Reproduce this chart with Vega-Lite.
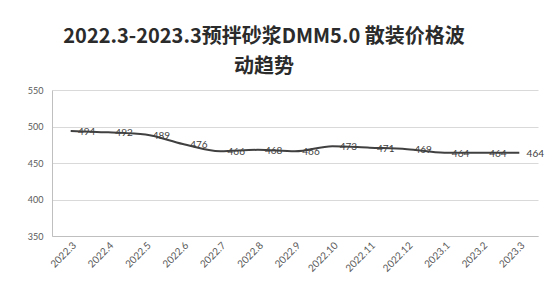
{
  "$schema": "https://vega.github.io/schema/vega-lite/v6.json",
  "width": 486,
  "height": 146,
  "autosize": {"type": "none"},
  "padding": {"left": 52, "top": 90, "right": 11, "bottom": 55},
  "background": "white",
  "title": {
    "text": ["2022.3-2023.3预拌砂浆DMM5.0 散装价格波", "动趋势"],
    "font": "Noto Sans CJK SC",
    "fontSize": 20,
    "fontWeight": "bold",
    "color": "#2b2b2b",
    "lineHeight": 30,
    "anchor": "middle",
    "dx": -31,
    "offset": 9
  },
  "data": {
    "values": [
      {"month": "2022.3", "price": 494},
      {"month": "2022.4", "price": 492},
      {"month": "2022.5", "price": 489},
      {"month": "2022.6", "price": 476},
      {"month": "2022.7", "price": 466},
      {"month": "2022.8", "price": 468},
      {"month": "2022.9", "price": 466},
      {"month": "2022.10", "price": 473},
      {"month": "2022.11", "price": 471},
      {"month": "2022.12", "price": 469},
      {"month": "2023.1", "price": 464},
      {"month": "2023.2", "price": 464},
      {"month": "2023.3", "price": 464}
    ]
  },
  "encoding": {
    "x": {
      "field": "month",
      "type": "ordinal",
      "sort": null,
      "scale": {"type": "point", "padding": 0.5},
      "axis": {
        "title": null,
        "labelAngle": -45,
        "labelFont": "Lato",
        "labelFontSize": 10,
        "labelColor": "#595959",
        "domainColor": "#bfbfbf",
        "ticks": false,
        "labelPadding": 4,
        "grid": false
      }
    },
    "y": {
      "field": "price",
      "type": "quantitative",
      "scale": {"domain": [350, 550], "nice": false, "zero": false},
      "axis": {
        "title": null,
        "values": [350, 400, 450, 500, 550],
        "labelFont": "Lato",
        "labelFontSize": 9,
        "labelColor": "#595959",
        "labelPadding": 9,
        "ticks": false,
        "domainColor": "#bfbfbf",
        "gridColor": "#d9d9d9",
        "grid": true
      }
    }
  },
  "layer": [
    {
      "mark": {"type": "line", "interpolate": "monotone", "color": "#404040", "strokeWidth": 2}
    },
    {
      "mark": {"type": "text", "dx": 16, "dy": 1, "font": "Lato", "fontSize": 10, "color": "#404040"},
      "encoding": {"text": {"field": "price", "type": "quantitative"}}
    }
  ],
  "config": {"view": {"stroke": null}}
}
